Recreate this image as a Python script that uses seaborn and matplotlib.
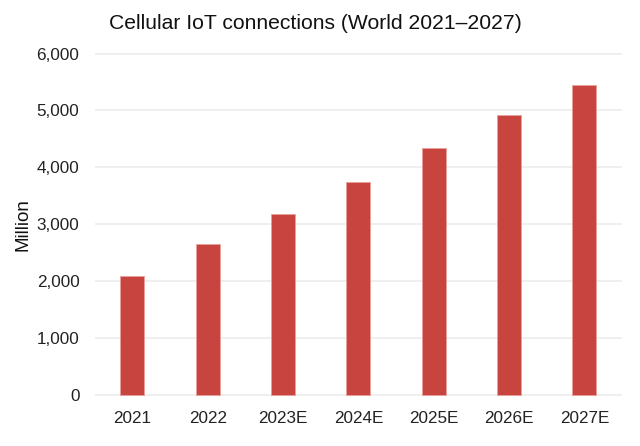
import matplotlib
matplotlib.use("Agg")
import matplotlib.pyplot as plt
import seaborn as sns
import pandas as pd
from matplotlib.ticker import FuncFormatter

categories = ["2021", "2022", "2023E", "2024E", "2025E", "2026E", "2027E"]
values = [2095, 2655, 3175, 3735, 4345, 4915, 5440]
yticks = [0, 1000, 2000, 3000, 4000, 5000, 6000]

sns.set_theme(style="white")
plt.rcParams['font.family'] = ['Liberation Sans', 'DejaVu Sans']

df = pd.DataFrame({"year": categories, "value": values})

fig = plt.figure(figsize=(6.4, 4.46), dpi=100)
ax = fig.add_axes([0.148, 0.112, 0.824, 0.771])

sns.barplot(data=df, x="year", y="value", color="#C8453F", width=0.32,
            saturation=1, edgecolor="#E8A09C", linewidth=0.6, ax=ax, zorder=3)

ax.set_ylim(-25, 6025)
ax.set_xlim(-0.5, 6.5)
ax.set_yticks(yticks)
ax.yaxis.set_major_formatter(FuncFormatter(lambda v, p: f"{int(v):,}"))
ax.grid(axis="y", color="#EEEEEE", linewidth=1.3, zorder=0)
ax.grid(axis="x", visible=False)
for s in ax.spines.values():
    s.set_visible(False)
ax.tick_params(axis="both", length=0, labelsize=12.3, colors="#222222", pad=11)
ax.set_xlabel("")
ax.set_ylabel("Million", fontsize=13.5, color="#111111", labelpad=4)
fig.suptitle("Cellular IoT connections (World 2021–2027)", fontsize=15.2,
             color="#111111", x=0.492, y=0.968)

fig.savefig("out.png", dpi=100)
